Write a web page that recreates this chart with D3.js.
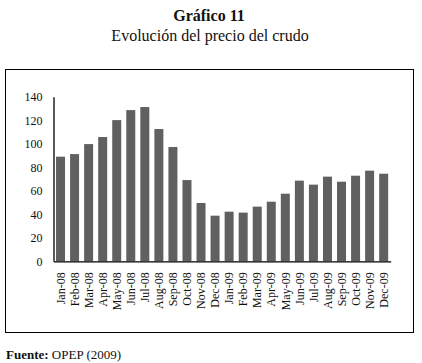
<!DOCTYPE html>
<html>
<head>
  <meta charset="UTF-8">
  <title>Gráfico 11</title>
  <script src="https://d3js.org/d3.v7.min.js"></script>
  <style>
    body { margin: 0; padding: 0; background: #fff; }
    svg { display: block; }
    text { font-family: "Liberation Serif", "Times New Roman", serif; }
  </style>
</head>
<body>
<script>
  const months = ["Jan-08","Feb-08","Mar-08","Apr-08","May-08","Jun-08","Jul-08","Aug-08",
    "Sep-08","Oct-08","Nov-08","Dec-08","Jan-09","Feb-09","Mar-09","Apr-09","May-09",
    "Jun-09","Jul-09","Aug-09","Sep-09","Oct-09","Nov-09","Dec-09"];
  const prices = [89.0, 91.2, 99.7, 105.7, 120.1, 128.6, 131.2, 112.5, 97.2, 69.1, 49.6, 38.8,
    42.2, 41.4, 46.5, 50.7, 57.5, 68.6, 65.2, 72.0, 67.7, 72.8, 77.1, 74.5];
  const yTicks = [0, 20, 40, 60, 80, 100, 120, 140];

  const width = 422, height = 363;
  const svg = d3.select("body").append("svg")
    .attr("width", width)
    .attr("height", height);

  // titles
  svg.append("text")
    .attr("x", 209).attr("y", 21)
    .attr("text-anchor", "middle")
    .attr("font-size", 16).attr("font-weight", "bold")
    .attr("fill", "#111")
    .text("Gráfico 11");
  svg.append("text")
    .attr("x", 210).attr("y", 40.5)
    .attr("text-anchor", "middle")
    .attr("font-size", 16)
    .attr("fill", "#111")
    .text("Evolución del precio del crudo");

  // frame
  svg.append("rect")
    .attr("x", 5.5).attr("y", 69.5)
    .attr("width", 408).attr("height", 263)
    .attr("fill", "none").attr("stroke", "#000").attr("stroke-width", 1);

  const x = d3.scaleBand()
    .domain(months)
    .range([53.5, 390.7])
    .paddingInner(0.36)
    .paddingOuter(0.18);

  const y = d3.scaleLinear()
    .domain([0, 140])
    .range([261.3, 96.7]);

  svg.append("g")
    .selectAll("rect")
    .data(prices)
    .enter().append("rect")
    .attr("x", (d, i) => x(months[i]))
    .attr("y", d => y(d))
    .attr("width", x.bandwidth())
    .attr("height", d => y(0) - y(d))
    .attr("fill", "#606060");

  // y axis
  const yAxis = svg.append("g")
    .attr("transform", "translate(53.5,0)")
    .call(d3.axisLeft(y).tickValues(yTicks).tickSize(0).tickPadding(11));
  yAxis.attr("font-family", null);
  yAxis.select(".domain").attr("stroke", "#000").attr("stroke-width", 1.3);
  yAxis.selectAll("text")
    .attr("font-size", 12)
    .attr("fill", "#111");

  // x axis
  const xAxis = svg.append("g")
    .attr("transform", "translate(0,261.3)")
    .call(d3.axisBottom(x).tickSize(0).tickPadding(0));
  xAxis.attr("font-family", null);
  xAxis.select(".domain").attr("stroke", "#000").attr("stroke-width", 1.3);
  xAxis.selectAll("text")
    .attr("font-size", 12)
    .attr("fill", "#111")
    .attr("text-anchor", "end")
    .attr("transform", "rotate(-90)")
    .attr("x", -11)
    .attr("y", 0)
    .attr("dy", "0.35em");

  // source
  const src = svg.append("text")
    .attr("x", 6).attr("y", 359)
    .attr("font-size", 13)
    .attr("fill", "#111");
  src.append("tspan").attr("font-weight", "bold").text("Fuente:");
  src.append("tspan").text(" OPEP (2009)");
</script>
</body>
</html>
